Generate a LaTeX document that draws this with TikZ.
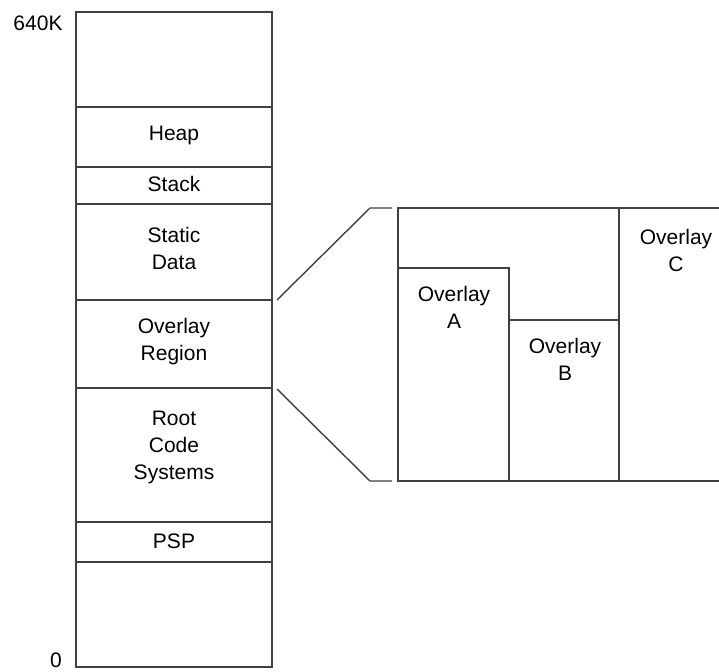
\documentclass[tikz,border=0pt]{standalone}
\usepackage{fontspec}
\setmainfont{Liberation Sans}
\begin{document}
\begin{tikzpicture}[x=1pt,y=-1pt,
  line width=1.4pt, draw=black!75,
  lbl/.style={font=\fontsize{21}{27}\selectfont, align=center, inner sep=0pt, anchor=north, text=black},
  rule/.style={draw=black!75, line width=1.4pt}]
\useasboundingbox (0,0) rectangle (719,671);
% memory column
\draw[rule] (76,12) rectangle (272,667);
\foreach \y in {107,167,204,300,388,522,562} \draw[rule] (76,\y) -- (272,\y);
% labels of memory column
\node[lbl] (k640) at (38,15) {640K};
\node[lbl] (zero) at (56,652) {0};
\node[lbl] (heap) at (174,125) {Heap};
\node[lbl] (stack) at (174,176) {Stack};
\node[lbl] (static) at (174,227) {Static\\Data};
\node[lbl] (region) at (174,318) {Overlay\\Region};
\node[lbl] (root) at (174,410) {Root\\Code\\Systems};
\node[lbl] (psp) at (174,533) {PSP};
% overlay area
\coordinate (ovTL) at (398,208);
\coordinate (ovBL) at (398,481);
\coordinate (ovTR) at (719,208);
\coordinate (ovBR) at (719,481);
\draw[rule] (ovTR) -- (ovTL) -- (ovBL) -- (ovBR);
\draw[rule] (398,268) -- (509,268) -- (509,481);
\draw[rule] (509,320) -- (619,320);
\draw[rule] (619,208) -- (619,481);
\node[lbl] (ovA) at (454,286) {Overlay\\A};
\node[lbl] (ovB) at (565,338) {Overlay\\B};
\node[lbl] (ovC) at (676,229) {Overlay\\C};
% zoom connectors
\coordinate (regT) at (277,300);
\coordinate (regB) at (277,389);
\coordinate (bendT) at (370,208);
\coordinate (bendB) at (370,481);
\coordinate (endT) at (392,208);
\coordinate (endB) at (392,481);
\draw[rule] (regT) -- (bendT) -- (endT);
\draw[rule] (regB) -- (bendB) -- (endB);
\end{tikzpicture}
\end{document}
